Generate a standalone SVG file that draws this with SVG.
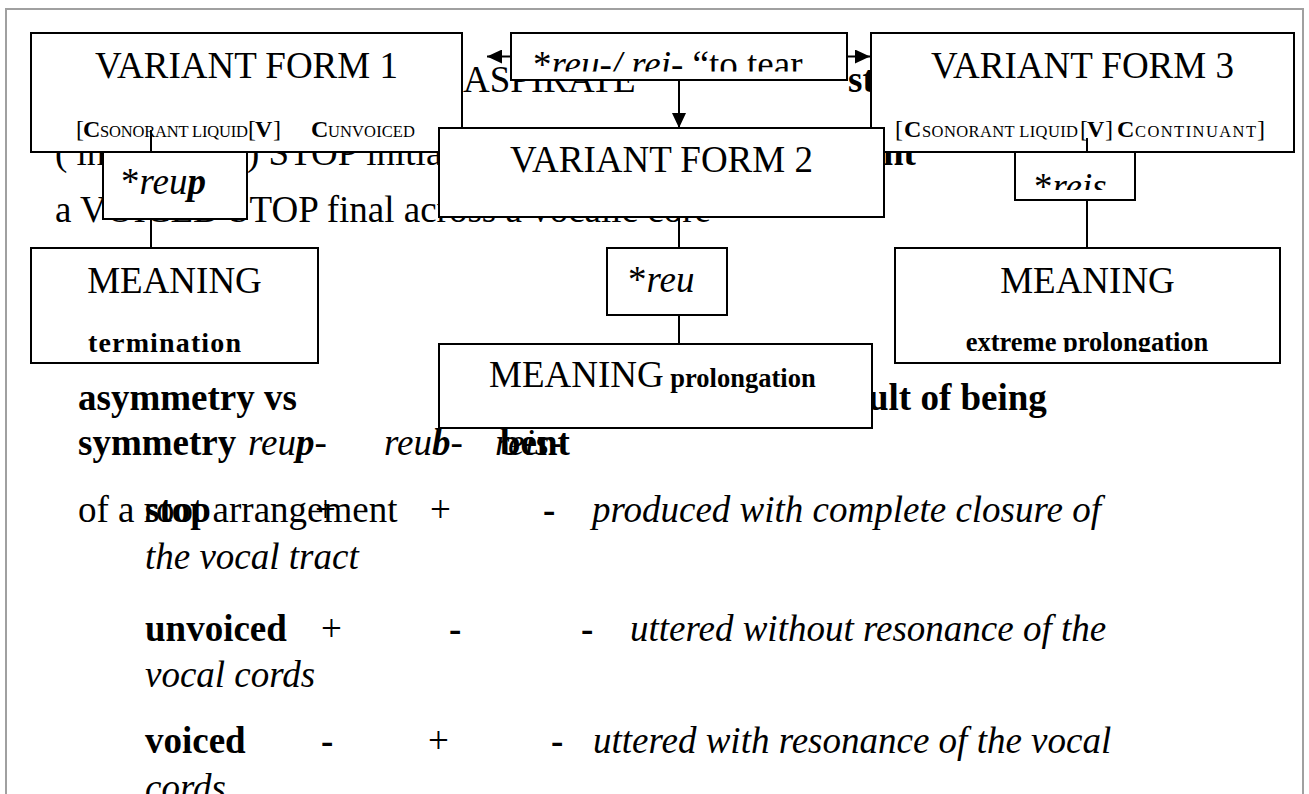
<svg xmlns="http://www.w3.org/2000/svg" width="1309" height="794" viewBox="0 0 1309 794">
<style>
.t{font-family:"Liberation Serif","Times New Roman",serif;font-size:37px;fill:#000}
.b{font-weight:bold}
.i{font-style:italic}
.sc{font-size:16.5px}
.box{fill:#fff;stroke:#000;stroke-width:2}
.ln{stroke:#000;stroke-width:2;fill:none}
</style>
<defs>
<marker id="ah" markerWidth="15" markerHeight="14" refX="15" refY="7" orient="auto" markerUnits="userSpaceOnUse"><path d="M0,0 L15,7 L0,14 z" fill="#000"/></marker>
<clipPath id="cTop"><rect x="511" y="33" width="336" height="38.5"/></clipPath>
<clipPath id="cReis"><rect x="1015" y="152" width="120" height="38"/></clipPath>
<clipPath id="cM3"><rect x="895" y="248" width="385" height="104"/></clipPath>
</defs>
<rect width="1309" height="794" fill="#fff"/>
<path d="M6,800 V9 H1303 V800" fill="none" stroke="#a0a0a0" stroke-width="2"/>

<g id="background-text">
<text class="t" x="463" y="92">ASPIRATE</text>
<text class="t b" x="848" y="92">st</text>
<text class="t" x="55" y="165">( in</text>
<text class="t" x="247" y="165">) STOP initial</text>
<text class="t b" x="883" y="165">nt</text>
<text class="t" x="55" y="222">a VOICED STOP final across a vocalic core</text>
<text class="t b" x="78" y="410">asymmetry vs</text>
<text class="t b" x="868" y="410">ult of being</text>
<text class="t b" x="78" y="455">symmetry</text>
<text class="t i" x="248" y="455">reu<tspan class="b">p</tspan>-</text>
<text class="t i" x="384" y="455">reu<tspan class="b">b</tspan>-</text>
<text class="t i" x="495" y="455">reis-</text>
<text class="t b" x="500" y="455">bent</text>
<text class="t" x="78" y="522">of a root arrangement</text>
<text class="t b" x="145" y="522">stop</text>
<text class="t" x="315" y="522">+</text>
<text class="t" x="430" y="522">+</text>
<text class="t b" x="543" y="522">-</text>
<text class="t i" x="592" y="522">produced with complete closure of</text>
<text class="t i" x="145" y="569">the vocal tract</text>
<text class="t b" x="145" y="641">unvoiced</text>
<text class="t" x="321" y="641">+</text>
<text class="t b" x="449" y="641">-</text>
<text class="t b" x="581" y="641">-</text>
<text class="t i" x="630" y="641">uttered without resonance of the</text>
<text class="t i" x="145" y="687">vocal cords</text>
<text class="t b" x="145" y="753">voiced</text>
<text class="t b" x="321" y="753">-</text>
<text class="t" x="428" y="753">+</text>
<text class="t b" x="551" y="753">-</text>
<text class="t i" x="593" y="753">uttered with resonance of the vocal</text>
<text class="t i" x="145" y="800">cords</text>
</g>

<g id="root-form">
<rect class="box" x="511" y="33" width="336" height="47"/>
<text class="t" x="533" y="77" clip-path="url(#cTop)">*<tspan class="i">reu-/ rei-</tspan> “to tear</text>
</g>

<g id="variant-form-3">
<rect class="box" x="871" y="33" width="423" height="119"/>
<text class="t" x="1082.5" y="78" text-anchor="middle">VARIANT FORM 3</text>
<text class="t" y="137" style="font-size:24px"><tspan x="895">[</tspan><tspan x="904" class="b">C</tspan><tspan x="922" class="sc" textLength="156">SONORANT LIQUID</tspan><tspan x="1080">[</tspan><tspan x="1087" class="b">V</tspan><tspan x="1105">]</tspan><tspan x="1117" class="b">C</tspan><tspan x="1135" class="sc" textLength="121">CONTINUANT</tspan><tspan x="1257">]</tspan></text>
</g>

<g id="variant-form-1">
<rect class="box" x="31" y="33" width="431" height="119"/>
<text class="t" x="246.5" y="78" text-anchor="middle">VARIANT FORM 1</text>
<text class="t" y="137" style="font-size:24px"><tspan x="76">[</tspan><tspan x="83" class="b">C</tspan><tspan x="100" class="sc" textLength="148">SONORANT LIQUID</tspan><tspan x="248">[</tspan><tspan x="255" class="b">V</tspan><tspan x="273">]</tspan><tspan x="311" class="b">C</tspan><tspan x="328" class="sc" textLength="87">UNVOICED</tspan></text>
</g>

<g id="variant-form-2">
<rect class="box" x="439" y="128" width="445" height="89"/>
<text class="t" x="661.5" y="172" text-anchor="middle">VARIANT FORM 2</text>
</g>

<g id="form-reup">
<rect class="box" x="103" y="152" width="144" height="67"/>
<text class="t" x="121" y="194">*<tspan class="i">reu</tspan><tspan class="i b">p</tspan></text>
</g>

<g id="form-reu">
<rect class="box" x="607" y="248" width="120" height="67"/>
<text class="t" x="628" y="292">*<tspan class="i">reu</tspan></text>
</g>

<g id="form-reis">
<rect class="box" x="1015" y="152" width="120" height="48"/>
<text class="t" x="1034" y="199" clip-path="url(#cReis)">*<tspan class="i">reis</tspan></text>
</g>

<g id="meaning-1">
<rect class="box" x="31" y="248" width="287" height="115"/>
<text class="t" x="174.5" y="293" text-anchor="middle">MEANING</text>
<text class="t b" x="88" y="352" style="font-size:28px" textLength="153">termination</text>
</g>

<g id="meaning-2">
<rect class="box" x="439" y="344" width="433" height="84"/>
<text class="t" x="489" y="387">MEANING<tspan class="b" style="font-size:26.5px"> prolongation</tspan></text>
</g>

<g id="meaning-3">
<rect class="box" x="895" y="248" width="385" height="115"/>
<text class="t" x="1087.5" y="293" text-anchor="middle">MEANING</text>
<text class="t b" x="1087" y="351" text-anchor="middle" style="font-size:26.5px" clip-path="url(#cM3)">extreme prolongation</text>
</g>

<g id="connectors">
<line class="ln" x1="511" y1="56.5" x2="487" y2="56.5" marker-end="url(#ah)"/>
<line class="ln" x1="847" y1="56.5" x2="870" y2="56.5" marker-end="url(#ah)"/>
<line class="ln" x1="679" y1="80" x2="679" y2="128" marker-end="url(#ah)"/>
<line class="ln" x1="151" y1="130" x2="151" y2="152"/>
<line class="ln" x1="151" y1="219" x2="151" y2="248"/>
<line class="ln" x1="679" y1="217" x2="679" y2="248"/>
<line class="ln" x1="679" y1="315" x2="679" y2="344"/>
<line class="ln" x1="1087" y1="138" x2="1087" y2="152"/>
<line class="ln" x1="1087" y1="200" x2="1087" y2="248"/>
</g>
</svg>
